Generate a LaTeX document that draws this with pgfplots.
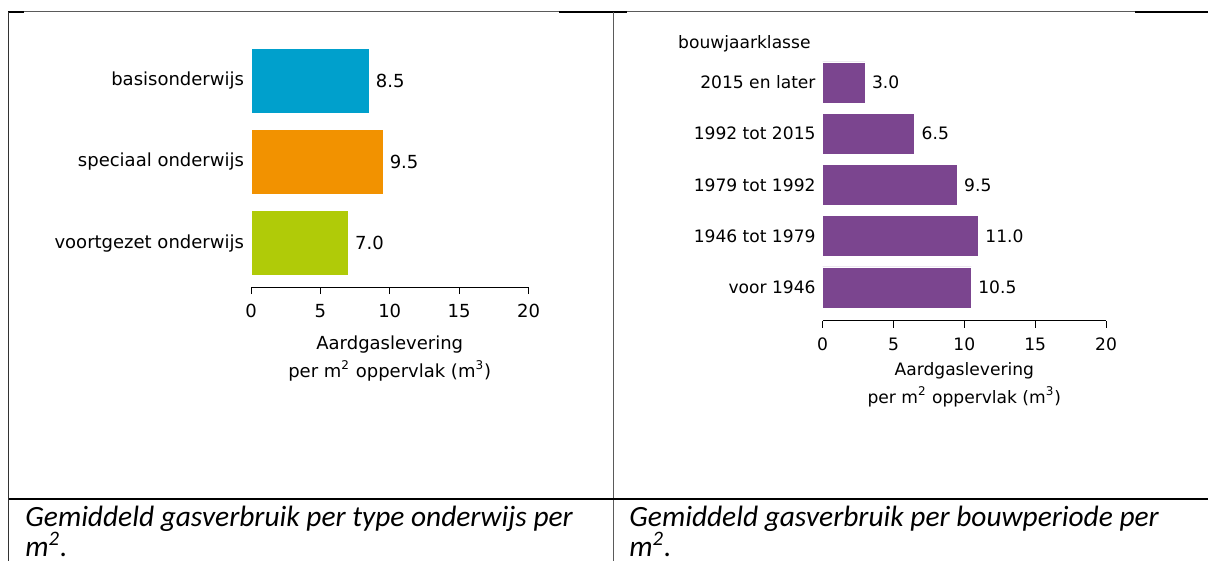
\documentclass[border=0pt]{standalone}
\usepackage{fontspec}
\setmainfont{DejaVu Sans}
\newfontfamily\capfont{Carlito}
\usepackage{pgfplots}
\pgfplotsset{compat=1.18}

\definecolor{cblue}{RGB}{0,160,204}
\definecolor{corange}{RGB}{242,146,0}
\definecolor{cgreen}{RGB}{176,203,8}
\definecolor{cpurple}{RGB}{123,69,143}
\definecolor{rule}{RGB}{90,90,90}

\newcommand{\leftfont}{\fontsize{9}{14}\selectfont}
\newcommand{\rightfont}{\fontsize{8.55}{14}\selectfont}
\newcommand{\capsize}{\capfont\itshape\fontsize{14.7}{14.7}\selectfont}

\pgfplotsset{
  hbars/.style={
    scale only axis,
    xbar, bar shift=0pt,
    xmin=0, xmax=20,
    xtick={0,5,10,15,20},
    axis x line*=bottom, axis y line*=left,
    x axis line style={-, line width=0.5pt},
    y axis line style={draw=none},
    ytick style={draw=none},
    xtick style={line width=0.5pt, black},
    tick align=outside,
    major tick length=3.5pt,
    tick label style={font=#1},
    yticklabel style={xshift=3.5pt},
    xticklabel style={yshift=-1.5pt},
    /pgf/number format/assume math mode=true,
    xlabel={Aardgaslevering\\per m\textsuperscript{2} oppervlak (m\textsuperscript{3})},
    xlabel style={align=center, font=#1, yshift=-2pt},
    nodes near coords,
    point meta=x,
    nodes near coords style={font=#1, anchor=west,
      /pgf/number format/.cd, fixed, fixed zerofill, precision=1},
    clip=false,
  },
}

\begin{document}
\begin{tikzpicture}
\useasboundingbox (0,0) rectangle (604pt,-280.5pt);

% table borders
\draw[black, line width=1.3pt] (4pt,-6pt) -- (12pt,-6pt);
\draw[black, line width=1.3pt] (279.5pt,-6pt) -- (313.5pt,-6pt);
\draw[black, line width=1.3pt] (567.5pt,-6pt) -- (604pt,-6pt);
\draw[rule, line width=0.6pt] (12pt,-5.8pt) -- (279.5pt,-5.8pt);
\draw[rule, line width=0.6pt] (313.5pt,-5.8pt) -- (567.5pt,-5.8pt);
\draw[black!80, line width=0.8pt] (4.25pt,-6pt) -- (4.25pt,-280.5pt);
\draw[rule, line width=0.7pt] (306.75pt,-6pt) -- (306.75pt,-280.5pt);
\draw[black, line width=1.1pt] (4.25pt,-249.3pt) -- (604pt,-249.3pt);

% left chart: type onderwijs
\begin{axis}[hbars=\leftfont,
  at={(125.5pt,-143.5pt)}, anchor=south west,
  width=138.75pt, height=121.5pt,
  ymin=-0.54, ymax=2.45,
  bar width=32.5pt,
  ytick={0,1,2},
  yticklabels={voortgezet onderwijs, speciaal onderwijs, basisonderwijs},
]
\addplot[fill=cgreen, draw=white, line width=0.3pt] coordinates {(7.0,0)};
\addplot[fill=corange, draw=white, line width=0.3pt] coordinates {(9.5,1)};
\addplot[fill=cblue, draw=white, line width=0.3pt] coordinates {(8.5,2)};
\end{axis}

% right chart: bouwjaarklasse
\begin{axis}[hbars=\rightfont,
  at={(411.3pt,-160.3pt)}, anchor=south west,
  width=141.7pt, height=129.3pt,
  ymin=-0.65, ymax=4.4,
  bar width=20.5pt,
  ytick={0,1,2,3,4},
  yticklabels={voor 1946, 1946 tot 1979, 1979 tot 1992, 1992 tot 2015, 2015 en later},
  xlabel style={yshift=3pt},
]
\addplot[fill=cpurple, draw=white, line width=0.3pt] coordinates {
  (10.5,0) (11.0,1) (9.5,2) (6.5,3) (3.0,4)
};
\node[anchor=east, font=\rightfont, xshift=-2.5pt] at (axis cs:0,4.75) {bouwjaarklasse};
\end{axis}

% captions
\node[anchor=base west, inner sep=0pt, font=\capsize]
  at (12.5pt,-263pt) {Gemiddeld gasverbruik per type onderwijs per};
\node[anchor=base west, inner sep=0pt, font=\capsize]
  at (12.5pt,-278pt) {m\textsuperscript{2}.};
\node[anchor=base west, inner sep=0pt, font=\capsize]
  at (314.5pt,-263pt) {Gemiddeld gasverbruik per bouwperiode per};
\node[anchor=base west, inner sep=0pt, font=\capsize]
  at (314.5pt,-278pt) {m\textsuperscript{2}.};
\end{tikzpicture}
\end{document}
